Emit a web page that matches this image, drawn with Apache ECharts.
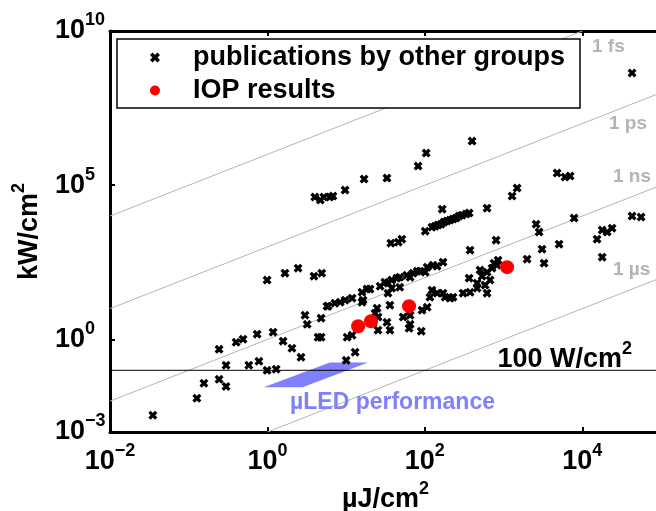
<!DOCTYPE html>
<html><head><meta charset="utf-8">
<script src="https://cdn.jsdelivr.net/npm/echarts@6/dist/echarts.min.js"></script>
<style>html,body{margin:0;padding:0;background:#fff}#c{width:656px;height:511px}</style>
</head><body><div id="c"></div>
<script>
// ---- data (x: µJ/cm², y: kW/cm²) ----
const xTicks = [1e-2, 1, 1e2, 1e4];
const yTicks = [1e-3, 1, 1e5, 1e10];

const otherGroups = [
  [0.035,0.0035],[0.127,0.0124],[0.156,0.038],[0.243,0.051],[0.298,0.030],[0.243,0.48],[0.298,0.146],
  [0.40,0.81],[0.49,1.02],[0.74,1.48],[1.18,1.72],[0.58,0.146],[0.78,0.197],[0.99,0.10],[1.29,0.108],
  [0.99,84],[1.67,141],[2.45,205],[1.58,0.88],[2.05,0.52],[2.67,0.265],
  [3.9,113],[4.9,141],[3.0,6.1],[3.2,3.1],[4.8,4.9],[4.4,1.18],[4.8,1.18],[5.7,12.0],
  [10.3,1.18],[11.9,1.37],[13.0,0.385],[10.0,0.21],
  [4.0,41200],[4.7,33000],[5.2,41200],[6.2,41200],[6.8,44400],[9.7,69500],[16.9,158000],[33,171000],
  [82,418000],[104,1.1e6],[398,2.7e6],[166,16800],
  [5.9,12.0],[7.2,15.0],[8.4,16.1],[9.7,18.8],[11.9,21.8],[15.9,16.1],[15.9,34],[18.4,43],[20.1,43],
  [27,53],[31,72],[34,67],[38,84],[44,97],[48,104],[59,121],[71,141],[80,164],[87,164],[107,221],
  [127,256],[170,321],[34,31.6],[38,46],[48,49.5],[16.4,18.8],[65,104],[101,152],[143,238],
  [123,4380],[135,4720],[147,5090],[161,5480],[175,6370],[191,6870],[209,7400],[228,7970],[249,8590],
  [272,9970],[297,10700],[334,11600],[365,12500],[101,3250],
  [617,18100],[1282,44400],[1486,80700],[4790,248000],[6040,184000],[7000,198000],[7870,8590],
  [42900,9970],[55800,9250],[2590,5480],[2825,3020],[803,1660],[375,787],[5070,1230],[3083,847],
  [15400,1787],[17900,3510],[20700,3020],[23900,4060],[17900,466],[1990,402],[3270,298],[42900,4.36e8],
  [37,1327],[46,1429],[51,1787],[851,372],
  [24.7,10.3],[23.3,7.1],[25.4,5.3],[22,3.4],[25.4,2.0],[36,12.9],[33,3.6],[36,2.0],[53,5.3],[65,6.1],
  [65,3.1],[90,1.85],[63,2.3],[92,8.9],[107,11.1],[116,23.5],[143,31.6],[170,31.6],[209,21.8],[123,39.6],
  [181,23.5],[228,23.5],[306,31.6],[375,34],[617,31.6],[365,97],[461,46],[461,67],[533,113],[617,152],
  [714,205],[826,256],[502,177],[673,84],[757,298],[582,57.5]
];
const iopResults = [[14.2,2.69],[20.7,3.91],[63,12.0],[1107,221]];

// constant pulse-duration lines (P = E / t)
const fsLine = [[0.01,1e4],[1e4,1e10]];
const psLine = [[0.01,10],[1e5,1e8]];
const nsLine = [[0.01,0.01],[1e5,1e5]];
const usLine = [[1,1e-3],[1e5,100]];
const limitLine = [[0.01,0.1],[1e5,0.1]];   // 100 W/cm²
const uLED = [[0.9,0.028],[2.8,0.028],[19,0.18],[6.2,0.18]];

// ---- chart ----
const FONT = 'Liberation Sans, Arial, Helvetica, sans-serif';
const GRAY = '#b4b4b4';
const CROSS = 'path://M0,2.6 L2.6,0 L5,2.4 L7.4,0 L10,2.6 L7.6,5 L10,7.4 L7.4,10 L5,7.6 L2.6,10 L0,7.4 L2.4,5 Z';
const supRich = {
  b: {fontSize:27, fontWeight:'bold', fontFamily:FONT, color:'#000'},
  s: {fontSize:18, fontWeight:'bold', fontFamily:FONT, color:'#000', padding:[0,0,21,0]}
};
function pow10(v){
  const e = Math.round(Math.log10(v));
  return '{b|10}{s|' + (e < 0 ? '\u2212' + (-e) : e) + '}';
}
function grayLine(data){
  return {type:'line', data:data, showSymbol:false, silent:true, z:1,
    lineStyle:{color:GRAY, width:1}, animation:false};
}

const chart = echarts.init(document.getElementById('c'), null, {renderer:'canvas'});
chart.setOption({
  animation:false,
  backgroundColor:'#fff',
  grid:{left:110, top:31, right:-5, bottom:79, outerBoundsMode:'none', containLabel:false},
  xAxis:[{
    type:'log', logBase:10, min:1e-2, max:1e5, position:'bottom',
    name:'{b|\u00b5J/cm}{s|2}', nameLocation:'middle', nameGap:48,
    nameTextStyle:{rich:supRich},
    axisLine:{onZero:false, lineStyle:{color:'#000', width:3}},
    axisTick:{inside:true, length:5, customValues:xTicks, lineStyle:{color:'#000', width:2}},
    axisLabel:{customValues:xTicks, formatter:pow10, rich:supRich, margin:10},
    splitLine:{show:false}, minorTick:{show:false}
  },{
    type:'log', logBase:10, min:1e-2, max:1e5, position:'top',
    axisLine:{onZero:false, lineStyle:{color:'#000', width:3}},
    axisTick:{inside:true, length:5, customValues:xTicks, lineStyle:{color:'#000', width:2}},
    axisLabel:{show:false}, splitLine:{show:false}
  }],
  yAxis:[{
    type:'log', logBase:10, min:1e-3, max:1e10, position:'left',
    name:'{b|kW/cm}{s|2}', nameLocation:'middle', nameGap:61, nameRotate:90,
    nameTextStyle:{rich:supRich},
    axisLine:{onZero:false, lineStyle:{color:'#000', width:3}},
    axisTick:{inside:true, length:5, customValues:yTicks, lineStyle:{color:'#000', width:2}},
    axisLabel:{customValues:yTicks, formatter:pow10, rich:supRich, margin:55, align:'left'},
    splitLine:{show:false}
  }],
  legend:{
    orient:'vertical', left:117, top:39, backgroundColor:'#fff',
    borderColor:'#000', borderWidth:1.5, padding:[5,15,4,33],
    itemWidth:10, itemHeight:10, itemGap:6,
    textStyle:{fontSize:27, fontWeight:'bold', fontFamily:FONT, color:'#000', padding:[0,0,0,28]},
    data:[{name:'publications by other groups', icon:CROSS}, {name:'IOP results', icon:'circle'}]
  },
  graphic:[
    {type:'text', left:592, top:37, z:10, style:{text:'1 fs', fill:GRAY, font:'bold 19px '+FONT}},
    {type:'text', left:609, top:114, z:10, style:{text:'1 ps', fill:GRAY, font:'bold 19px '+FONT}},
    {type:'text', left:613, top:167, z:10, style:{text:'1 ns', fill:GRAY, font:'bold 19px '+FONT}},
    {type:'text', left:613, top:260, z:10, style:{text:'1 \u00b5s', fill:GRAY, font:'bold 19px '+FONT}},
    {type:'text', right:24, top:340, z:10, style:{text:'{b|100 W/cm}{s|2}', rich:supRich}},
    {type:'text', left:290, top:391, z:10, style:{text:'\u00b5LED performance', fill:'#8080ff', font:'bold 23px '+FONT}}
  ],
  series:[
    grayLine(fsLine), grayLine(psLine), grayLine(nsLine), grayLine(usLine),
    {type:'line', data:limitLine, showSymbol:false, silent:true, z:2,
      lineStyle:{color:'#000', width:1}},
    {type:'custom', data:uLED, z:2, silent:true,
      renderItem:function(params, api){
        if (params.dataIndex !== 0) return null;
        return {type:'polygon', shape:{points:uLED.map(function(p){return api.coord(p);})},
                style:{fill:'#8080ff'}};
      }},
    {type:'scatter', name:'publications by other groups', data:otherGroups, symbol:CROSS,
      symbolSize:9, itemStyle:{color:'#000', opacity:1}, z:3},
    {type:'scatter', name:'IOP results', data:iopResults, symbol:'circle',
      symbolSize:14, itemStyle:{color:'#ff0000', opacity:1}, z:4}
  ]
});
</script></body></html>
